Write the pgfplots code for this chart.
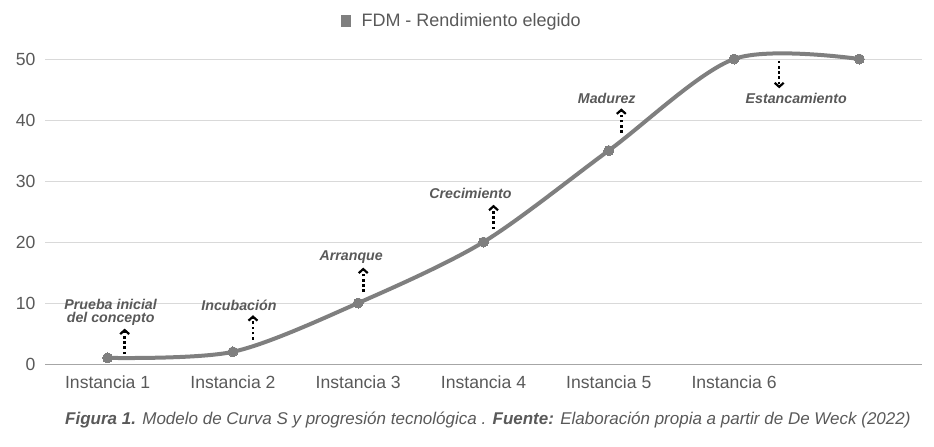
\documentclass[border=0pt]{standalone}
\usepackage{pgfplots}
\pgfplotsset{compat=1.18}
\usepackage{fontspec}
\setmainfont{Liberation Sans}
\usetikzlibrary{arrows.meta}
\definecolor{linegray}{HTML}{7F7F7F}
\definecolor{txtgray}{HTML}{595959}
\definecolor{gridgray}{HTML}{D9D9D9}
\definecolor{axgray}{HTML}{A6A6A6}
\begin{document}
\begin{tikzpicture}
\path[use as bounding box] (-45bp,-83bp) rectangle (889bp,364bp);
\begin{axis}[
  scale only axis,
  width=877bp, height=305bp,
  xmin=0.5, xmax=7.5,
  ymin=0, ymax=50,
  clip=false,
  axis x line*=bottom,
  axis y line*=left,
  y axis line style={draw=none},
  x axis line style={draw=axgray, line width=1bp},
  xtick={1,2,3,4,5,6},
  xticklabels={Instancia 1,Instancia 2,Instancia 3,Instancia 4,Instancia 5,Instancia 6},
  ytick={0,10,20,30,40,50},
  ymajorgrids,
  grid style={draw=gridgray, line width=1bp},
  major tick length=0pt,
  tick style={draw=none},
  /pgf/number format/assume math mode=true,
  tick label style={font=\fontsize{17.6bp}{20bp}\selectfont, text=txtgray},
  xticklabel style={yshift=-8bp},
  yticklabel style={xshift=-6bp},
  legend style={at={(0.4755,1.125)}, anchor=center, draw=none, fill=none,
    font=\fontsize{18bp}{20bp}\selectfont, text=txtgray},
  legend image code/.code={\fill[linegray, draw=none] (0bp,-6bp) rectangle (10bp,6bp); \path[draw=none, fill=none] (18bp,0bp) circle (0.1bp);},
]
\addplot[linegray, line width=4bp, smooth, mark=*, mark size=5bp,
  mark options={fill=linegray, draw=linegray, line width=0pt}]
  coordinates {(1,1) (2,2) (3,10) (4,20) (5,35) (6,50) (7,50)};
\addlegendentry{FDM - Rendimiento elegido}

\tikzset{arr/.style={black, line width=2.6bp, dash pattern=on 2.6bp off 2.6bp,
  -{Straight Barb[length=4bp,width=9bp,line width=2.2bp]}},
  lab/.style={text=txtgray, font=\fontsize{14.2bp}{13bp}\selectfont\bfseries\itshape, align=center}}
\draw[arr] (axis cs:1.136,1.6) -- (axis cs:1.136,5.8);
\draw[arr] (axis cs:2.16,4.0) -- (axis cs:2.16,8.0);
\draw[arr] (axis cs:3.04,11.8) -- (axis cs:3.04,15.8);
\draw[arr] (axis cs:4.08,22.1) -- (axis cs:4.08,26.1);
\draw[arr] (axis cs:5.1,37.9) -- (axis cs:5.1,41.9);
\draw[arr] (axis cs:6.36,49.7) -- (axis cs:6.36,45.2);
\node[lab] at (axis cs:1.024,8.4) {Prueba inicial\\del concepto};
\node[lab] at (axis cs:2.048,9.6) {Incubación};
\node[lab] at (axis cs:2.944,17.6) {Arranque};
\node[lab] at (axis cs:3.896,27.9) {Crecimiento};
\node[lab] at (axis cs:4.984,43.5) {Madurez};
\node[lab] at (axis cs:6.496,43.5) {Estancamiento};
\node[text=txtgray, font=\fontsize{17bp}{20bp}\selectfont\itshape, anchor=center]
  at (rel axis cs:0.505,-0.182) {\textbf{Figura 1.} Modelo de Curva S y progresión tecnológica . \textbf{Fuente:} Elaboración propia a partir de De Weck (2022)};
\end{axis}
\end{tikzpicture}
\end{document}
